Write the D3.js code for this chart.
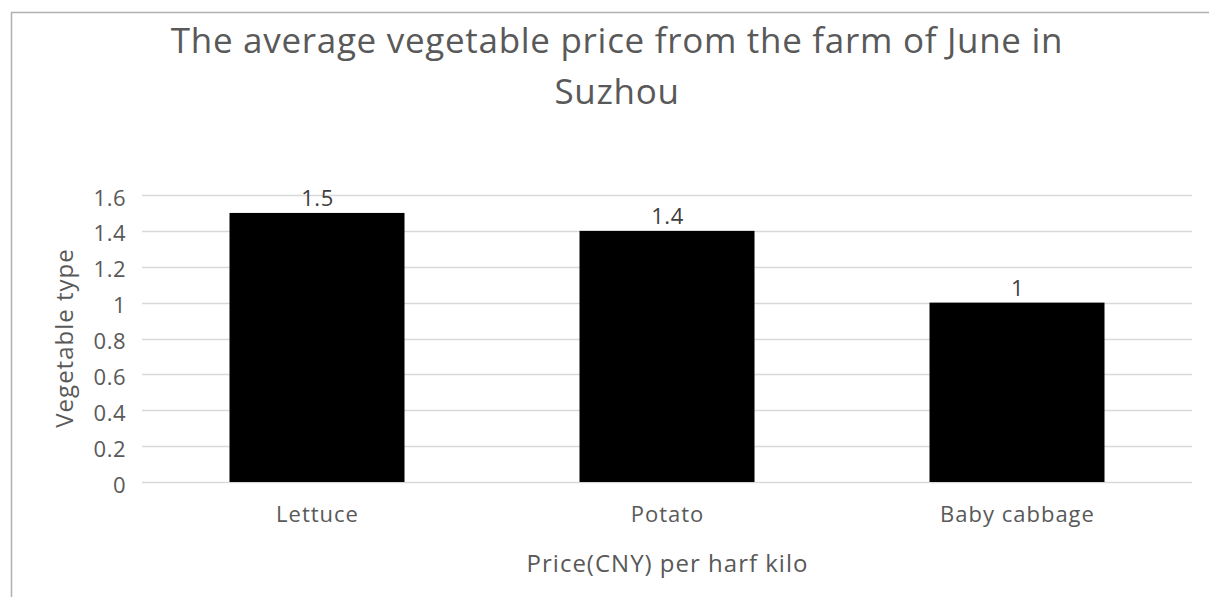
<!DOCTYPE html>
<html>
<head>
<meta charset="utf-8">
<script src="https://cdn.jsdelivr.net/npm/d3@7"></script>
<style>
  body { margin: 0; background: #fff; }
  text { font-family: "Open Sans", sans-serif; }
</style>
</head>
<body>
<div id="canvas"></div>
<script>
var categories = ["Lettuce", "Potato", "Baby cabbage"];
var prices = [1.5, 1.4, 1];
var yTicks = [0, 0.2, 0.4, 0.6, 0.8, 1, 1.2, 1.4, 1.6];
var titleLines = ["The average vegetable price from the farm of June in", "Suzhou"];

draw();

function draw(){
	var w = 1209,
	    h = 597;
	var left = 142, right = 1192, top = 195, bottom = 482;

	var svg = d3.select("#canvas").append("svg")
				.attr("width", w)
				.attr("height", h)
				.style("display", "block");

	// chart frame (only top and left edges show)
	svg.append("path")
		.attr("d", "M11.5," + h + "V12.5H" + w)
		.attr("fill", "none")
		.attr("stroke", "#b0b0b0")
		.attr("stroke-width", 1.5);

	var xScale = d3.scaleBand()
					.domain(categories)
					.range([left, right])
					.paddingInner(0.5)
					.paddingOuter(0.25);
	var yScale = d3.scaleLinear()
					.domain([0, 1.6])
					.range([bottom, top]);

	// gridlines
	svg.append("g")
		.selectAll("line")
		.data(yTicks)
		.join("line")
		.attr("x1", left)
		.attr("x2", right)
		.attr("y1", function(d){ return Math.round(yScale(d)) + 0.5; })
		.attr("y2", function(d){ return Math.round(yScale(d)) + 0.5; })
		.attr("stroke", "#d9d9d9")
		.attr("stroke-width", 1.3);

	// y tick labels
	svg.append("g")
		.selectAll("text")
		.data(yTicks)
		.join("text")
		.attr("x", 126)
		.attr("y", function(d){ return yScale(d) + 10.5; })
		.attr("text-anchor", "end")
		.attr("font-size", 22)
		.attr("letter-spacing", 0.5)
		.attr("fill", "#595959")
		.text(function(d){ return d; });

	// bars
	svg.append("g")
		.selectAll("rect")
		.data(prices)
		.join("rect")
		.attr("x", function(d, i){ return xScale(categories[i]); })
		.attr("y", function(d){ return yScale(d); })
		.attr("width", xScale.bandwidth())
		.attr("height", function(d){ return yScale(0) - yScale(d); })
		.attr("fill", "#000");

	// value labels
	svg.append("g")
		.selectAll("text")
		.data(prices)
		.join("text")
		.attr("x", function(d, i){ return xScale(categories[i]) + xScale.bandwidth() / 2 + 0.5; })
		.attr("y", function(d){ return yScale(d) - 7; })
		.attr("text-anchor", "middle")
		.attr("font-size", 22)
		.attr("letter-spacing", 0.5)
		.attr("fill", "#404040")
		.text(function(d){ return d; });

	// category labels
	svg.append("g")
		.selectAll("text")
		.data(categories)
		.join("text")
		.attr("x", function(d){ return xScale(d) + xScale.bandwidth() / 2 + 0.5; })
		.attr("y", 522)
		.attr("text-anchor", "middle")
		.attr("font-size", 22)
		.attr("letter-spacing", 1)
		.attr("fill", "#595959")
		.text(function(d){ return d; });

	// axis titles
	svg.append("text")
		.attr("x", (left + right) / 2 + 0.5)
		.attr("y", 572)
		.attr("text-anchor", "middle")
		.attr("font-size", 24)
		.attr("letter-spacing", 1)
		.attr("fill", "#595959")
		.text("Price(CNY) per harf kilo");

	svg.append("text")
		.attr("transform", "translate(73," + ((top + bottom) / 2 - 0.5) + ") rotate(-90)")
		.attr("text-anchor", "middle")
		.attr("font-size", 24)
		.attr("letter-spacing", 1)
		.attr("fill", "#595959")
		.text("Vegetable type");

	// title
	svg.append("g")
		.selectAll("text")
		.data(titleLines)
		.join("text")
		.attr("x", 617)
		.attr("y", function(d, i){ return 53 + i * 51; })
		.attr("text-anchor", "middle")
		.attr("font-size", 35)
		.attr("letter-spacing", 0.7)
		.attr("fill", "#595959")
		.text(function(d){ return d; });
}
</script>
</body>
</html>
